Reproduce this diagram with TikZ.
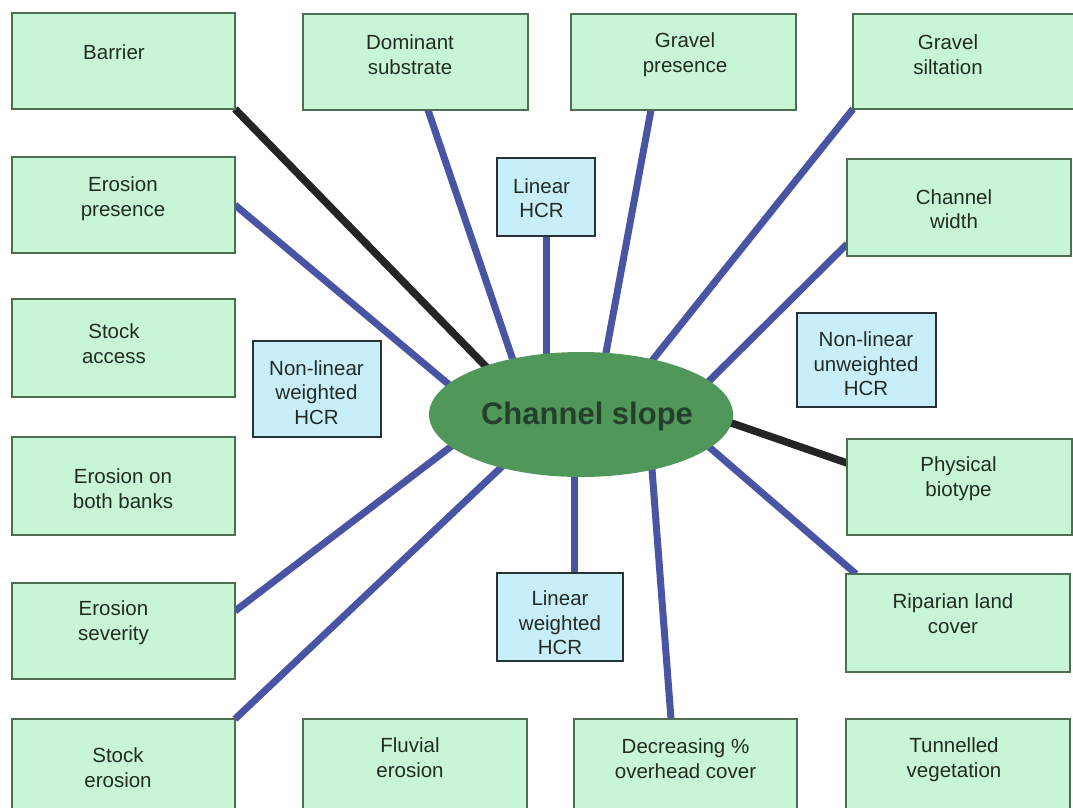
\documentclass[tikz,border=0pt]{standalone}
\usepackage{fontspec}
\setmainfont{Liberation Sans}
\usetikzlibrary{shapes.geometric,backgrounds}
\definecolor{gfill}{RGB}{200,245,214}
\definecolor{gborder}{RGB}{78,110,82}
\definecolor{bfill}{RGB}{200,238,250}
\definecolor{bborder}{RGB}{40,50,52}
\definecolor{linkblue}{RGB}{74,84,164}
\definecolor{linkblack}{RGB}{35,38,36}
\definecolor{ellfill}{RGB}{80,152,90}
\definecolor{txtcol}{RGB}{34,44,36}
\definecolor{elltxt}{RGB}{38,62,44}
\begin{document}
\begin{tikzpicture}[x=1pt,y=-1pt,
  gbox/.style={draw=gborder,fill=gfill,line width=1.4pt,inner sep=0pt,outer sep=0pt},
  bbox/.style={draw=bborder,fill=bfill,line width=1.8pt,inner sep=0pt,outer sep=0pt},
  txt/.style={align=center,text=txtcol,inner sep=0pt,font=\fontsize{20.5}{24.5}\selectfont},
  bluelink/.style={draw=linkblue,line width=7pt},
  blacklink/.style={draw=linkblack,line width=7.5pt},
  hub/.style={ellipse,fill=ellfill,inner sep=0pt,minimum width=304,minimum height=125}
]
\useasboundingbox (0,0) rectangle (1073,808);

% green boxes
\node[gbox,minimum width=223,minimum height=96] (barrier) at (123.5,61) {};
\node[gbox,minimum width=225,minimum height=96] (dom) at (415.5,62) {};
\node[gbox,minimum width=225,minimum height=96] (gpres) at (683.5,62) {};
\node[gbox,minimum width=237,minimum height=95] (gsilt) at (971.5,61.5) {};
\node[gbox,minimum width=223,minimum height=96] (epres) at (123.5,205) {};
\node[gbox,minimum width=224,minimum height=97] (cwidth) at (959,207.5) {};
\node[gbox,minimum width=223,minimum height=98] (saccess) at (123.5,348) {};
\node[gbox,minimum width=223,minimum height=98] (ebanks) at (123.5,486) {};
\node[gbox,minimum width=225,minimum height=96] (phys) at (959.5,487) {};
\node[gbox,minimum width=223,minimum height=96] (esev) at (123.5,631) {};
\node[gbox,minimum width=224,minimum height=98] (rip) at (958,623) {};
\node[gbox,minimum width=223,minimum height=110] (serosion) at (123.5,774) {};
\node[gbox,minimum width=224,minimum height=110] (fluv) at (415,774) {};
\node[gbox,minimum width=223,minimum height=110] (decr) at (685.5,774) {};
\node[gbox,minimum width=224,minimum height=110] (tunn) at (958,774) {};

% blue boxes
\node[bbox,minimum width=98,minimum height=78] (lhcr) at (546,197) {};
\node[bbox,minimum width=128,minimum height=96] (nlw) at (317,389) {};
\node[bbox,minimum width=139,minimum height=94] (nlu) at (866.5,360) {};
\node[bbox,minimum width=126,minimum height=88] (lw) at (560,617) {};

% texts
\node[txt] (barrier-t) at (114,52) {Barrier};
\node[txt] (dom-t) at (410,54.5) {Dominant\\substrate};
\node[txt] (gpres-t) at (685,54.5) {Gravel\\presence};
\node[txt] (gsilt-t) at (948,54.5) {Gravel\\siltation};
\node[txt] (epres-t) at (123,198.5) {Erosion\\presence};
\node[txt] (lhcr-t) at (541.5,198) {Linear\\HCR};
\node[txt] (cwidth-t) at (954,209) {Channel\\width};
\node[txt] (saccess-t) at (114,343.5) {Stock\\access};
\node[txt] (nlw-t) at (316.5,392.5) {Non-linear\\weighted\\HCR};
\node[txt] (nlu-t) at (866,364) {Non-linear\\unweighted\\HCR};
\node[txt] (ebanks-t) at (123,488.5) {Erosion on\\both banks};
\node[txt] (phys-t) at (958.5,478.5) {Physical\\biotype};
\node[txt] (esev-t) at (113.5,622.5) {Erosion\\severity};
\node[txt] (rip-t) at (953,613.5) {Riparian land\\cover};
\node[txt] (lw-t) at (560,623) {Linear\\weighted\\HCR};
\node[txt] (serosion-t) at (118,767.5) {Stock\\erosion};
\node[txt] (fluv-t) at (410,757.5) {Fluvial\\erosion};
\node[txt] (decr-t) at (685.5,758.5) {Decreasing \%\\overhead cover};
\node[txt] (tunn-t) at (954,759.5) {Tunnelled\\vegetation};

% hub
\node[hub] (hub) at (581,414.5) {};
\node[font=\bfseries\fontsize{31}{36}\selectfont,text=elltxt,inner sep=0pt] (hub-t) at (587,416) {Channel slope};

% attachment points on the hub (hidden under it)
\coordinate (h1) at (498,379);
\coordinate (h2) at (459,393);
\coordinate (h3) at (517,372);
\coordinate (h4) at (546,372);
\coordinate (h5) at (603,369);
\coordinate (h6) at (643,372);
\coordinate (h7) at (699,391);
\coordinate (h8) at (717,418);
\coordinate (h9) at (701,440);
\coordinate (h10) at (651,456);
\coordinate (h11) at (574,458);
\coordinate (h12) at (511,458);
\coordinate (h13) at (461,439);

\begin{scope}[on background layer]
\fill[white] (0,0) rectangle (1073,808);
\draw[blacklink] (barrier.south east) -- (h1);
\draw[bluelink] (epres.east) -- (h2);
\draw[bluelink] ([xshift=12.5]dom.south) -- (h3);
\draw[bluelink] (lhcr.south) -- (h4);
\draw[bluelink] ([xshift=-32.5]gpres.south) -- (h5);
\draw[bluelink] (gsilt.south west) -- (h6);
\draw[bluelink] ([yshift=-36.5]cwidth.west) -- (h7);
\draw[blacklink] ([yshift=24]phys.west) -- (h8);
\draw[bluelink] ([xshift=10]rip.north west) -- (h9);
\draw[bluelink] ([xshift=-14.5]decr.north) -- (h10);
\draw[bluelink] ([xshift=14]lw.north) -- (h11);
\draw[bluelink] (serosion.north east) -- (h12);
\draw[bluelink] ([yshift=20]esev.east) -- (h13);
\end{scope}
\end{tikzpicture}
\end{document}
